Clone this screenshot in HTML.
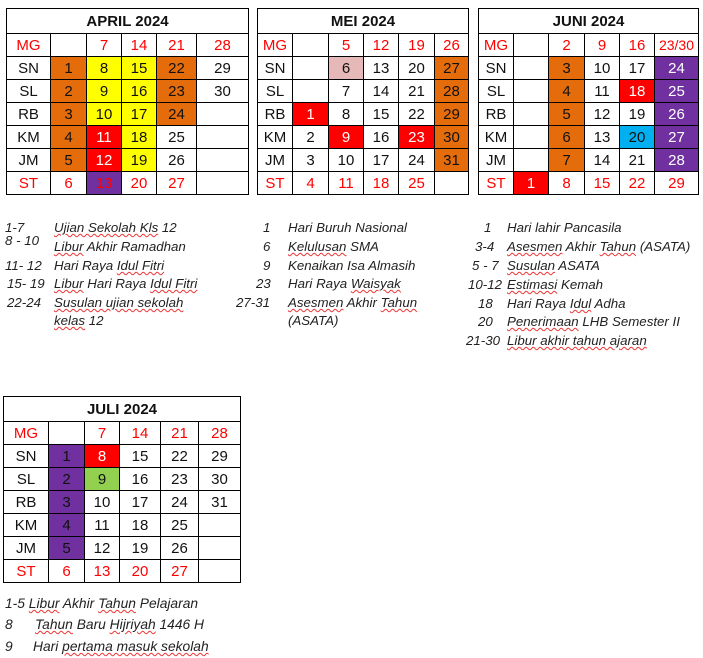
<!DOCTYPE html>
<html><head><meta charset="utf-8">
<style>
body{margin:0;width:703px;height:658px;background:#fff;position:relative;overflow:hidden;font-family:"Liberation Sans",sans-serif;}
.c{position:absolute;box-sizing:border-box;border:1px solid #000;display:flex;align-items:center;justify-content:center;font-size:15px;color:#111;}
.t{position:absolute;box-sizing:border-box;border:1px solid #000;display:flex;align-items:center;justify-content:center;font-weight:bold;font-size:15px;color:#111;}
.cal{position:absolute;border:1.5px solid #000;box-sizing:border-box;}
.l{position:absolute;font-style:italic;font-size:13.3px;color:#222;white-space:nowrap;line-height:15px;}
.j{font-size:13.8px;}
.w{text-decoration:underline wavy #e33;text-decoration-thickness:1px;}
</style></head><body>
<script>
const dayLabels=["MG","SN","SL","RB","KM","JM","ST"];
const aprilWeeks=["","7","14","21","28"];
const aprilDays=[["1","8","15","22","29"],["2","9","16","23","30"],["3","10","17","24",""],["4","11","18","25",""],["5","12","19","26",""],["6","13","20","27",""]];
const meiWeeks=["","5","12","19","26"];
const meiDays=[["","6","13","20","27"],["","7","14","21","28"],["1","8","15","22","29"],["2","9","16","23","30"],["3","10","17","24","31"],["4","11","18","25",""]];
const juniWeeks=["","2","9","16","23/30"];
const juniDays=[["","3","10","17","24"],["","4","11","18","25"],["","5","12","19","26"],["","6","13","20","27"],["","7","14","21","28"],["1","8","15","22","29"]];
const juliWeeks=["","7","14","21","28"];
const juliDays=[["1","8","15","22","29"],["2","9","16","23","30"],["3","10","17","24","31"],["4","11","18","25",""],["5","12","19","26",""],["6","13","20","27",""]];
const O="#E46C0A",Y="#FFFF00",R="#FF0000",P="#7030A0",K="#E6B8B7",B="#00B0F0",G="#92D050";
const aprilColors=[[O,Y,Y,O],[O,Y,Y,O],[O,Y,Y,O],[O,R,Y],[O,R,Y],[0,P]];
const meiColors=[[0,K,0,0,O],[0,0,0,0,O],[R,0,0,0,O],[0,R,0,R,O],[0,0,0,0,O],[]];
const juniColors=[[0,O,0,0,P],[0,O,0,R,P],[0,O,0,0,P],[0,O,0,B,P],[0,O,0,0,P],[R]];
const juliColors=[[P,R],[P,G],[P],[P],[P],[]];
function cal(name,title,x0,y0,cols,titleH,rowH,weeks,days,colors){
  const W=cols[cols.length-1]-cols[0]+1;
  const t=document.createElement('div');t.className='t';
  
  
  t.style.left=cols[0]+'px';t.style.top=y0+'px';t.style.width=W+'px';t.style.height=(titleH+1)+'px';t.textContent=title;document.body.appendChild(t);
  for(let r=0;r<7;r++){
    for(let c=0;c<6;c++){
      const d=document.createElement('div');d.className='c';
      
      
      d.style.left=cols[c]+'px';d.style.top=(y0+titleH+r*rowH)+'px';
      d.style.width=(cols[c+1]-cols[c]+1)+'px';d.style.height=(rowH+1)+'px';
      let txt,red=false,bg=0;
      if(c==0){txt=dayLabels[r];red=(r==0||r==6);}
      else if(r==0){txt=weeks[c-1];red=true;}
      else{txt=days[r-1][c-1];red=(r==6);bg=(colors[r-1]||[])[c-1]||0;}
      d.textContent=txt;
      if(txt.length>3)d.style.fontSize='14px';
      if(red)d.style.color='#f00';
      if(bg){d.style.background=bg;if(bg==R||(bg==P&&name=='juni'))d.style.color='#fff';}
      document.body.appendChild(d);
    }
  }
  const b=document.createElement('div');b.className='cal';
  
  
  b.style.left=cols[0]+'px';b.style.top=y0+'px';b.style.width=W+'px';b.style.height=(titleH+7*rowH+1)+'px';document.body.appendChild(b);
}
cal('april','APRIL 2024',6,8,[6,50,86,121,156,196,248],25,23,aprilWeeks,aprilDays,aprilColors);
cal('mei','MEI 2024',257,8,[257,292,328,363,398,434,468],25,23,meiWeeks,meiDays,meiColors);
cal('juni','JUNI 2024',478,8,[478,513,548,584,619,654,698],25,23,juniWeeks,juniDays,juniColors);
cal('juli','JULI 2024',3,396,[3,48,84,119,160,198,240],25,23,juliWeeks,juliDays,juliColors);
</script>
<div>
<div class="l" style="left:5px;top:220px">1-7</div><div class="l" style="left:54px;top:220px"><span class="w">Ujian Sekolah Kls</span> 12</div>
<div class="l" style="left:5px;top:233px">8 - 10</div><div class="l" style="left:54px;top:239px"><span class="w">Libur</span> Akhir Ramadhan</div>
<div class="l" style="left:5px;top:258px">11- 12</div><div class="l" style="left:54px;top:258px">Hari Raya <span class="w">Idul Fitri</span></div>
<div class="l" style="left:7px;top:276px">15- 19</div><div class="l" style="left:54px;top:276px"><span class="w">Libur</span> Hari Raya <span class="w">Idul Fitri</span></div>
<div class="l" style="left:7px;top:295px">22-24</div><div class="l" style="left:54px;top:295px"><span class="w">Susulan ujian sekolah</span></div>
<div class="l" style="left:54px;top:313px"><span class="w">kelas</span> 12</div>
</div>
<div>
<div class="l" style="left:263px;top:220px">1</div><div class="l" style="left:288px;top:220px">Hari Buruh Nasional</div>
<div class="l" style="left:263px;top:239px">6</div><div class="l" style="left:288px;top:239px"><span class="w">Kelulusan</span> SMA</div>
<div class="l" style="left:263px;top:258px">9</div><div class="l" style="left:288px;top:258px">Kenaikan Isa Almasih</div>
<div class="l" style="left:256px;top:276px">23</div><div class="l" style="left:288px;top:276px">Hari Raya <span class="w">Waisyak</span></div>
<div class="l" style="left:236px;top:295px">27-31</div><div class="l" style="left:288px;top:295px"><span class="w">Asesmen</span> Akhir <span class="w">Tahun</span></div>
<div class="l" style="left:288px;top:313px">(ASATA)</div>
</div>
<div>
<div class="l" style="left:484px;top:220px">1</div><div class="l" style="left:507px;top:220px">Hari lahir Pancasila</div>
<div class="l" style="left:475px;top:239px">3-4</div><div class="l" style="left:507px;top:239px"><span class="w">Asesmen</span> Akhir <span class="w">Tahun</span> (ASATA)</div>
<div class="l" style="left:472px;top:258px">5 - 7</div><div class="l" style="left:507px;top:258px"><span class="w">Susulan</span> ASATA</div>
<div class="l" style="left:468px;top:277px">10-12</div><div class="l" style="left:507px;top:277px"><span class="w">Estimasi</span> Kemah</div>
<div class="l" style="left:478px;top:296px">18</div><div class="l" style="left:507px;top:296px">Hari Raya <span class="w">Idul</span> Adha</div>
<div class="l" style="left:478px;top:314px">20</div><div class="l" style="left:507px;top:314px"><span class="w">Penerimaan</span> LHB Semester II</div>
<div class="l" style="left:466px;top:333px">21-30</div><div class="l" style="left:507px;top:333px"><span class="w">Libur akhir tahun ajaran</span></div>
</div>
<div>
<div class="l j" style="left:5px;top:596px">1-5 <span class="w">Libur</span> Akhir <span class="w">Tahun</span> Pelajaran</div>
<div class="l j" style="left:5px;top:617px">8</div><div class="l j" style="left:35px;top:617px"><span class="w">Tahun</span> Baru <span class="w">Hijriyah</span> 1446 H</div>
<div class="l j" style="left:5px;top:639px">9</div><div class="l j" style="left:33px;top:639px">Hari <span class="w">pertama masuk sekolah</span></div>
</div>
</body></html>
